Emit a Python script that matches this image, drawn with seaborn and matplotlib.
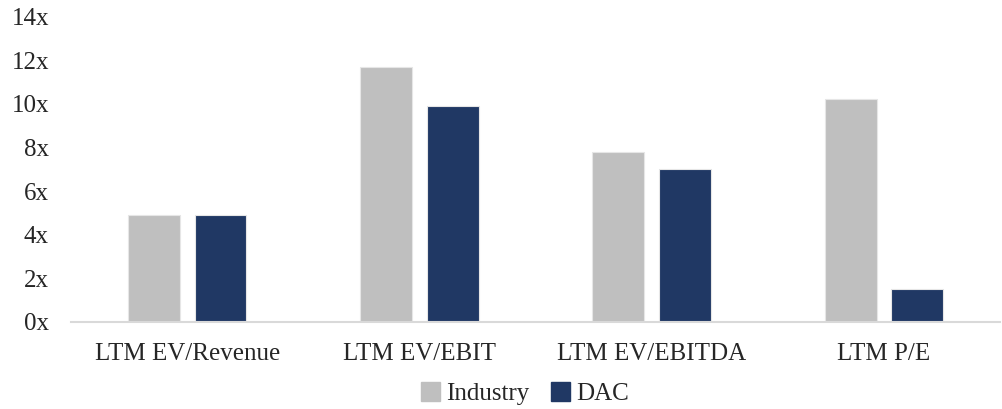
import matplotlib
matplotlib.use("Agg")
import matplotlib.pyplot as plt
import seaborn as sns
import pandas as pd
from matplotlib.patches import Patch

categories = ["LTM EV/Revenue", "LTM EV/EBIT", "LTM EV/EBITDA", "LTM P/E"]
industry = [4.92, 11.70, 7.78, 10.22]
dac = [4.90, 9.89, 7.03, 1.51]
series = ["Industry", "DAC"]
colors = ["#bfbfbf", "#203864"]
yticks = [0, 2, 4, 6, 8, 10, 12, 14]
ytick_labels = [f"{v}x" for v in yticks]

df = pd.DataFrame({
    "cat": categories * 2,
    "val": industry + dac,
    "series": [series[0]] * 4 + [series[1]] * 4,
})

sns.set_theme(style="white")
plt.rcParams["font.family"] = ["Liberation Serif", "DejaVu Serif"]

fig = plt.figure(figsize=(10.02, 4.09), dpi=100)
ax = fig.add_axes([0.071, 0.213, 0.927, 0.746])

sns.barplot(data=df, x="cat", y="val", hue="series", hue_order=series,
            palette=colors, width=0.573, gap=0.22, ax=ax, legend=False,
            edgecolor="#e6e6e6", linewidth=0.8, saturation=1)

ax.set_xlim(-0.5, 3.5)
ax.set_ylim(0, 14)
ax.set_yticks(yticks)
ax.set_yticklabels(ytick_labels, fontsize=18, color="#262626")
ax.tick_params(axis="x", labelsize=18, colors="#262626", length=0, pad=15)
ax.tick_params(axis="y", length=0, pad=16)
ax.set_xlabel("")
ax.set_ylabel("")
for s in ["top", "right", "left"]:
    ax.spines[s].set_visible(False)
ax.spines["bottom"].set_color("#d9d9d9")
ax.spines["bottom"].set_linewidth(1.5)

handles = [Patch(facecolor=c, edgecolor=c) for c in colors]
fig.legend(handles, series, loc="center", bbox_to_anchor=(0.524, 0.037),
           ncol=2, frameon=False, fontsize=18, handlelength=0.75,
           handleheight=0.75, handletextpad=0.25, columnspacing=0.85,
           labelcolor="#262626", borderpad=0)

fig.savefig("out.png", dpi=100)
